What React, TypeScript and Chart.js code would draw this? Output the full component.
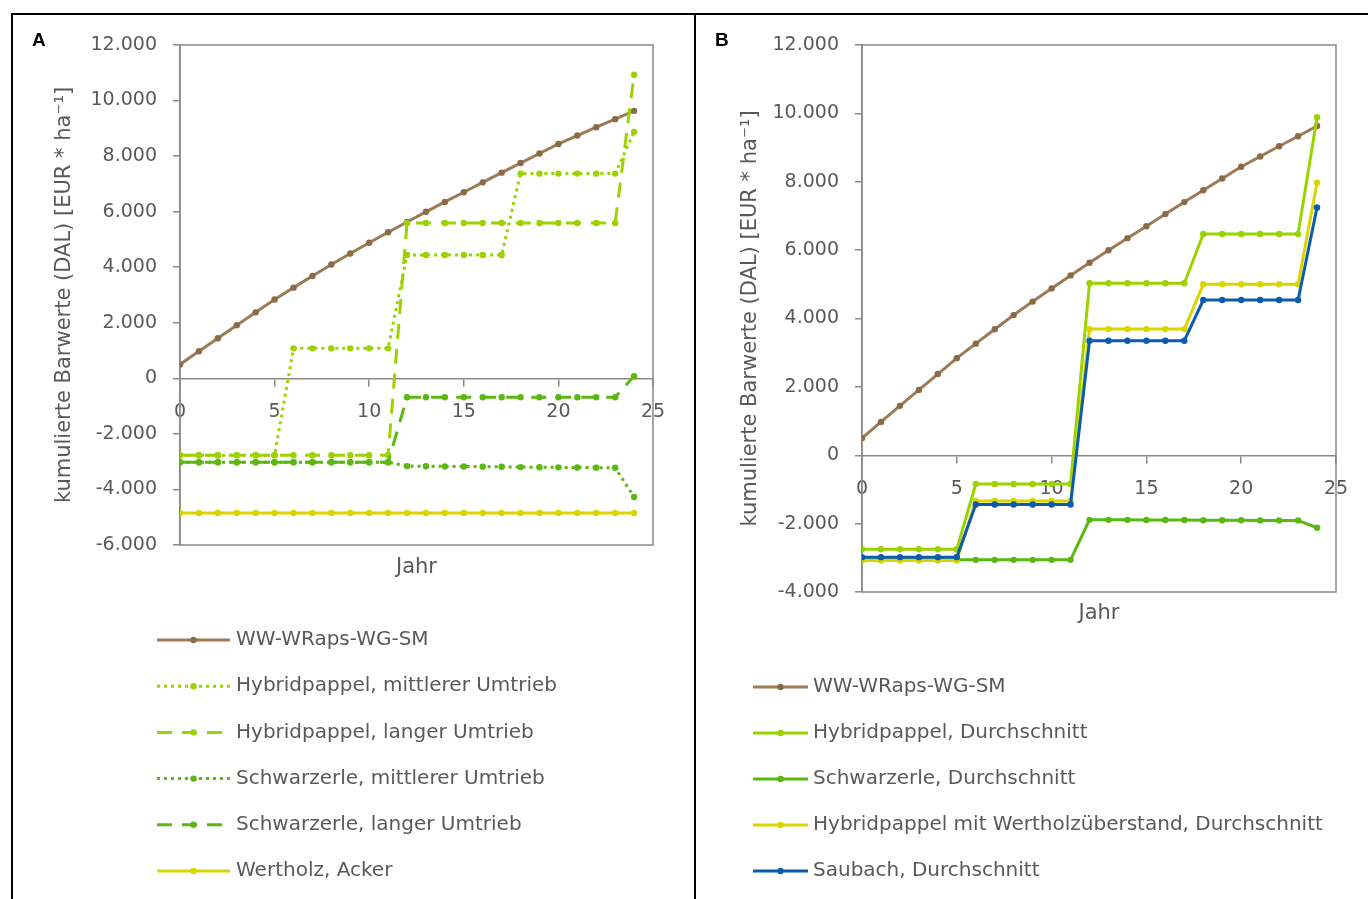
import React, { useEffect, useRef } from "react";
import { Chart, registerables } from "chart.js";

Chart.register(...registerables);

// ---------- data ----------
const years = [0, 1, 2, 3, 4, 5, 6, 7, 8, 9, 10, 11, 12, 13, 14, 15, 16, 17, 18, 19, 20, 21, 22, 23, 24];
const xTicks = [0, 5, 10, 15, 20, 25];
const yTicksA = [-6000, -4000, -2000, 0, 2000, 4000, 6000, 8000, 10000, 12000];
const yTicksB = [-4000, -2000, 0, 2000, 4000, 6000, 8000, 10000, 12000];

const wwWRapsWgSm = [500, 975, 1445, 1910, 2375, 2840, 3265, 3685, 4100, 4495, 4880, 5260, 5630, 5995, 6350, 6700, 7055, 7405, 7750, 8095, 8440, 8740, 9040, 9330, 9630];

// Panel A
const hybridMittlerer = [-2770, -2770, -2770, -2770, -2770, -2770, 1080, 1080, 1080, 1080, 1080, 1080, 4440, 4440, 4440, 4440, 4440, 4440, 7370, 7370, 7370, 7370, 7370, 7370, 8870];
const hybridLanger = [-2770, -2770, -2770, -2770, -2770, -2770, -2770, -2770, -2770, -2770, -2770, -2770, 5590, 5590, 5590, 5590, 5590, 5590, 5590, 5590, 5590, 5590, 5590, 5590, 10930];
const schwarzMittlerer = [-3020, -3020, -3020, -3020, -3020, -3020, -3020, -3020, -3020, -3020, -3020, -3020, -3160, -3165, -3170, -3175, -3180, -3185, -3195, -3200, -3205, -3210, -3215, -3220, -4270];
const schwarzLanger = [-3020, -3020, -3020, -3020, -3020, -3020, -3020, -3020, -3020, -3020, -3020, -3020, -680, -680, -680, -680, -680, -680, -680, -680, -680, -680, -680, -680, 80];
const wertholzAcker = [-4850, -4850, -4850, -4850, -4850, -4850, -4850, -4850, -4850, -4850, -4850, -4850, -4850, -4850, -4850, -4850, -4850, -4850, -4850, -4850, -4850, -4850, -4850, -4850, -4850];

// Panel B
const hybridAvg = [-2750, -2750, -2750, -2750, -2750, -2750, -840, -840, -840, -840, -840, -840, 5030, 5030, 5030, 5030, 5030, 5030, 6470, 6470, 6470, 6470, 6470, 6470, 9885];
const schwarzAvg = [-3060, -3060, -3060, -3060, -3060, -3060, -3060, -3060, -3060, -3060, -3060, -3060, -1890, -1890, -1890, -1895, -1895, -1895, -1900, -1900, -1900, -1905, -1905, -1905, -2120];
const wertholzAvg = [-3080, -3080, -3080, -3080, -3080, -3080, -1340, -1340, -1340, -1340, -1340, -1340, 3690, 3690, 3690, 3690, 3690, 3690, 5000, 5000, 5000, 5000, 5000, 5000, 7970];
const saubachAvg = [-2980, -2980, -2980, -2980, -2980, -2980, -1440, -1440, -1440, -1440, -1440, -1440, 3350, 3350, 3350, 3350, 3350, 3350, 4540, 4540, 4540, 4540, 4540, 4540, 7250];

const labelsA = [
  "WW-WRaps-WG-SM",
  "Hybridpappel, mittlerer Umtrieb",
  "Hybridpappel, langer Umtrieb",
  "Schwarzerle, mittlerer Umtrieb",
  "Schwarzerle, langer Umtrieb",
  "Wertholz, Acker",
];
const labelsB = [
  "WW-WRaps-WG-SM",
  "Hybridpappel, Durchschnitt",
  "Schwarzerle, Durchschnitt",
  "Hybridpappel mit Wertholzüberstand, Durchschnitt",
  "Saubach, Durchschnitt",
];

const yTitle = "kumulierte Barwerte (DAL) [EUR * ha\u207B\u00B9]";
const xTitle = "Jahr";

// ---------- styles ----------
const BROWN = "#9C7B55";
const BROWN_PT = "#8B6B47";
const LIGHT = "#9BD200";
const DARK = "#5AB810";
const YELLOW = "#DCD400";
const BLUE = "#0B5CAD";
const AXIS = "#898989";
const TEXT = "#595959";
const FONT = "'DejaVu Sans', sans-serif";
const DOT = [3, 4];
const DASH = [15, 10];

const fmt = (v: number) => {
  const s = Math.abs(v).toString().replace(/\B(?=(\d{3})+(?!\d))/g, ".");
  return (v < 0 ? "-" : "") + s;
};

const toXY = (vals: number[]) => vals.map((v, i) => ({ x: years[i], y: v }));

function ds(label: string, vals: number[], color: string, dash: number[], i: number, ptColor?: string) {
  return {
    label,
    data: toXY(vals),
    borderColor: color,
    backgroundColor: color,
    borderWidth: 3,
    borderDash: dash,
    pointRadius: 3.2,
    pointBorderWidth: 0,
    pointBackgroundColor: ptColor || color,
    pointBorderColor: ptColor || color,
    tension: 0,
    order: -i,
  };
}

type Deco = {
  letter: string;
  letterX: number;
  lineX1: number;
  lineX2: number;
  textX: number;
  legendTop: number;
  rowGap: number;
  jahrGap: number;
};

function decoPlugin(d: Deco) {
  return {
    id: "deco",
    beforeDatasetsDraw(chart: any) {
      const { ctx, chartArea: a } = chart;
      ctx.save();
      ctx.strokeStyle = AXIS;
      ctx.lineWidth = 1.5;
      ctx.strokeRect(a.left, a.top, a.right - a.left, a.bottom - a.top);
      ctx.restore();
    },
    afterDraw(chart: any) {
      const { ctx, chartArea: a } = chart;
      ctx.save();
      // panel letter
      ctx.fillStyle = "#000";
      ctx.font = "bold 19px 'Liberation Sans', Arial, sans-serif";
      ctx.textBaseline = "alphabetic";
      ctx.textAlign = "left";
      ctx.fillText(d.letter, d.letterX, 45.5);
      // x title
      ctx.fillStyle = TEXT;
      ctx.font = `21px ${FONT}`;
      ctx.textAlign = "center";
      ctx.textBaseline = "middle";
      ctx.fillText(xTitle, (a.left + a.right) / 2, a.bottom + d.jahrGap);
      // legend
      chart.data.datasets.forEach((s: any, i: number) => {
        const y = d.legendTop + i * d.rowGap;
        ctx.strokeStyle = s.borderColor;
        ctx.lineWidth = s.borderWidth;
        ctx.setLineDash(s.borderDash || []);
        ctx.beginPath();
        ctx.moveTo(d.lineX1, y);
        ctx.lineTo(d.lineX2, y);
        ctx.stroke();
        ctx.setLineDash([]);
        ctx.fillStyle = s.pointBackgroundColor;
        ctx.beginPath();
        ctx.arc((d.lineX1 + d.lineX2) / 2, y, 3.2, 0, Math.PI * 2);
        ctx.fill();
        ctx.fillStyle = TEXT;
        ctx.font = `20px ${FONT}`;
        ctx.textAlign = "left";
        ctx.textBaseline = "middle";
        ctx.fillText(s.label, d.textX, y);
      });
      ctx.restore();
    },
  };
}

function makeOptions(yMin: number, yMax: number, yTicks: number[], yAxisWidth: number, titlePad: number, padRight: number, padBottom: number) {
  return {
    responsive: false,
    animation: false,
    layout: { padding: { left: 0, top: 45, right: padRight, bottom: padBottom } },
    plugins: { legend: { display: false }, tooltip: { enabled: false } },
    scales: {
      x: {
        type: "linear",
        position: { y: 0 },
        min: 0,
        max: 25,
        afterBuildTicks: (s: any) => {
          s.ticks = xTicks.map((v) => ({ value: v }));
        },
        grid: { drawOnChartArea: false, drawTicks: true, tickLength: 7, color: AXIS, lineWidth: 1.5 },
        border: { display: true, color: AXIS, width: 1.5 },
        ticks: { color: TEXT, font: { family: FONT, size: 19 }, padding: 15, maxRotation: 0, autoSkip: false },
      },
      y: {
        type: "linear",
        min: yMin,
        max: yMax,
        afterBuildTicks: (s: any) => {
          s.ticks = yTicks.map((v) => ({ value: v }));
        },
        afterFit: (s: any) => {
          s.width = yAxisWidth;
        },
        grid: { drawOnChartArea: false, drawTicks: true, tickLength: 7, color: AXIS, lineWidth: 1.5 },
        border: { display: true, color: AXIS, width: 1.5 },
        ticks: { color: TEXT, font: { family: FONT, size: 19 }, padding: 16, callback: (v: any) => fmt(Number(v)) },
        title: { display: true, text: yTitle, color: TEXT, font: { family: FONT, size: 21 }, padding: { top: titlePad, bottom: 0 } },
      },
    },
  };
}

export default function App() {
  const refA = useRef<HTMLCanvasElement>(null);
  const refB = useRef<HTMLCanvasElement>(null);

  useEffect(() => {
    const chartA = new Chart(refA.current as HTMLCanvasElement, {
      type: "line",
      data: {
        datasets: [
          ds(labelsA[0], wwWRapsWgSm, BROWN, [], 0, BROWN_PT),
          ds(labelsA[1], hybridMittlerer, LIGHT, DOT, 1),
          ds(labelsA[2], hybridLanger, LIGHT, DASH, 2),
          ds(labelsA[3], schwarzMittlerer, DARK, DOT, 3),
          ds(labelsA[4], schwarzLanger, DARK, DASH, 4),
          ds(labelsA[5], wertholzAcker, YELLOW, [], 5),
        ],
      },
      options: makeOptions(-6000, 12000, yTicksA, 180, 52, 42, 354) as any,
      plugins: [decoPlugin({ letter: "A", letterX: 32, lineX1: 157, lineX2: 230, textX: 236, legendTop: 640, rowGap: 46.2, jahrGap: 23 })],
    });
    const chartB = new Chart(refB.current as HTMLCanvasElement, {
      type: "line",
      data: {
        datasets: [
          ds(labelsB[0], wwWRapsWgSm, BROWN, [], 0, BROWN_PT),
          ds(labelsB[1], hybridAvg, LIGHT, [], 1),
          ds(labelsB[2], schwarzAvg, DARK, [], 2),
          ds(labelsB[3], wertholzAvg, YELLOW, [], 3),
          ds(labelsB[4], saubachAvg, BLUE, [], 4),
        ],
      },
      options: makeOptions(-4000, 12000, yTicksB, 167, 43, 32, 307) as any,
      plugins: [decoPlugin({ letter: "B", letterX: 20, lineX1: 58, lineX2: 113, textX: 118, legendTop: 687, rowGap: 46, jahrGap: 22 })],
    });
    return () => {
      chartA.destroy();
      chartB.destroy();
    };
  }, []);

  return (
    <div style={{ position: "fixed", left: 0, top: 0, width: 1368, height: 899, background: "#fff", overflow: "hidden" }}>
      <canvas ref={refA} width={695} height={899} style={{ position: "absolute", left: 0, top: 0 }} />
      <canvas ref={refB} width={673} height={899} style={{ position: "absolute", left: 695, top: 0 }} />
      <div style={{ position: "absolute", left: 11, top: 13, width: 1357, height: 2, background: "#000" }} />
      <div style={{ position: "absolute", left: 11, top: 13, width: 2, height: 886, background: "#000" }} />
      <div style={{ position: "absolute", left: 694, top: 13, width: 2, height: 886, background: "#000" }} />
    </div>
  );
}
